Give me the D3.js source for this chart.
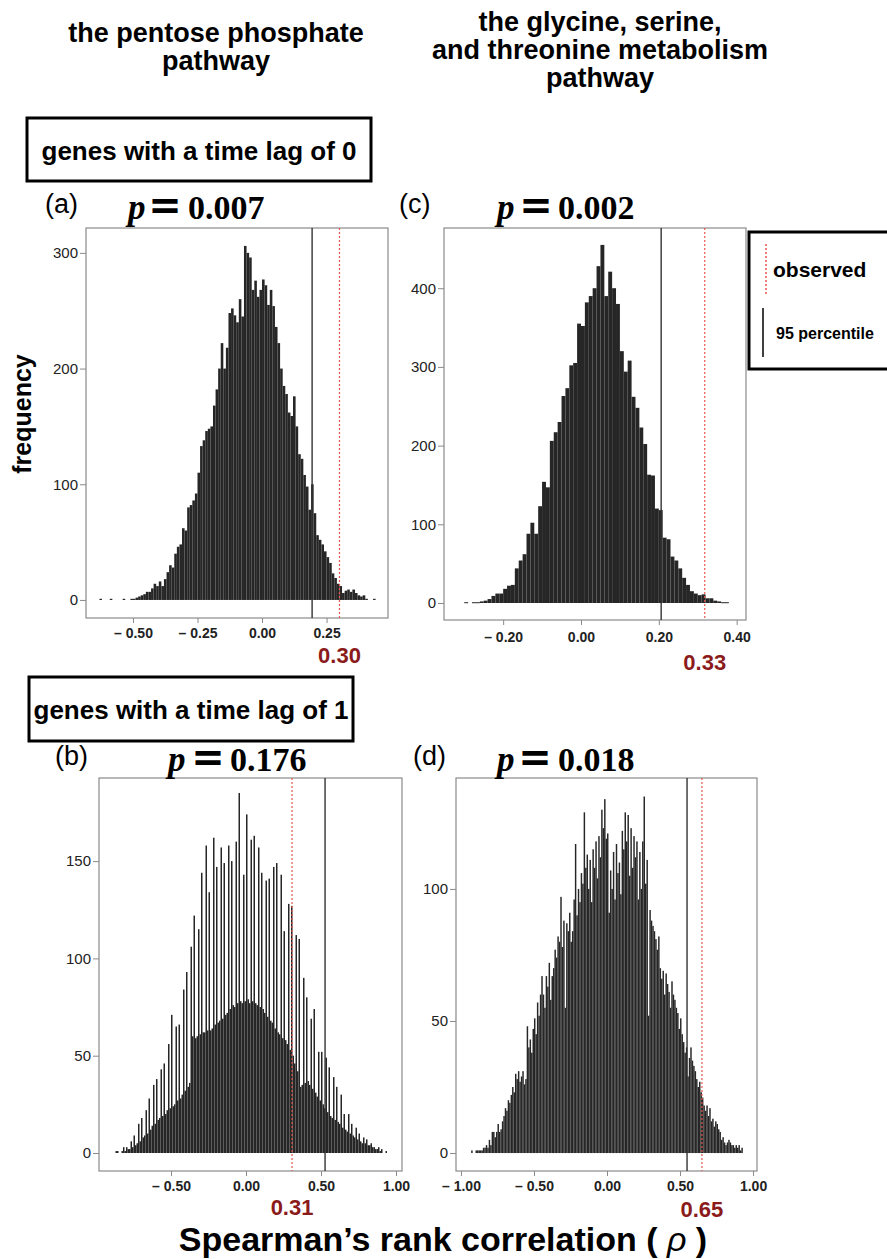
<!DOCTYPE html>
<html>
<head>
<meta charset="utf-8">
<script src="https://cdn.jsdelivr.net/npm/d3@7"></script>
<style>
  body { margin: 0; background: #fff; }
  svg { display: block; }
</style>
</head>
<body>
<div id="chart"></div>
<script>
// DATA
const binWidth = 0.01;

// (a) pentose phosphate, lag 0
const aStart = -0.63;
const aCounts = [1,0,0,0,1,0,0,0,0,1, 0,0,1,1,2,3,4,5,7,7, 10,14,12,16,12,18,24,30,28,40,
  46,48,62,60,80,82,86,92,110,133, 138,146,148,150,168,182,200,222,200,218,
  248,252,246,240,260,245,306,300,296,268, 276,262,268,277,272,255,268,254,236,222,
  200,185,178,162,159,176,150,126,122,108, 98,78,100,75,56,52,48,42,37,32,
  23,19,14,12,6,8,9,7,9,6, 4,3,4,1,0,0,1];

// (c) glycine/serine/threonine, lag 0
const cStart = -0.30;
const cCounts = [1,0,1,1,2,3,5,9,12,12, 18,22,23,44,54,62,88,102,88,123,
  154,147,206,217,230,263,273,302,305,355, 352,382,390,400,428,455,390,421,400,380,
  320,294,308,262,248,223,202,163,162,120, 118,83,81,59,54,44,32,23,15,12,
  10,11,6,6,3,2,1,1];

// (b) pentose phosphate, lag 1
const bStart = -0.87;
const bCounts = [1,1,0,0,1, 3,1,3,2,2, 6,3,9,4,5, 15,6,18,8,9, 22,10,28,12,14,
  35,15,38,17,18, 43,19,46,20,22, 56,23,71,24,25, 65,27,66,28,30, 84,32,93,34,36,
  106,60,122,59,60, 115,61,144,62,62, 158,63,134,63,64, 162,66,147,67,68,
  157,69,149,71,72, 158,74,150,76,75, 160,77,185,78,77, 143,78,174,79,77,
  161,78,163,77,76, 157,75,144,74,72, 140,70,141,68,67, 147,64,149,62,61,
  143,59,114,58,56, 128,53,127,50,46, 112,42,110,34,35, 90,36,80,37,35,
  69,33,74,31,29, 52,27,52,25,23, 49,21,44,19,18, 39,17,34,16,15,
  30,13,20,12,11, 20,10,15,9,8, 13,7,10,6,5, 8,5,7,4,4,
  5,3,3,2,2, 3,1,2,0,0, 1];

// (d) glycine/serine/threonine, lag 1
const dStart = -0.93;
const dCounts = [1,0,0,1,1,1,1,1,2,2, 3,2,5,3,8,8,6,8,11,8,
  9,12,14,17,16,20,19,22,25,23, 30,28,31,27,29,31,26,28,48,40,
  43,38,47,51,45,57,52,60,67,60, 55,67,63,72,58,67,70,77,74,82,
  80,97,78,88,55,87,84,91,80,84, 96,117,90,100,95,106,102,129,108,113,
  100,111,95,115,108,118,104,120,112,130, 123,134,119,121,91,107,100,114,96,117,
  106,110,98,122,115,129,118,128,105,123, 108,120,112,118,96,114,100,118,135,102,
  111,52,92,88,86,84,81,77,82,70, 66,69,60,68,64,61,55,65,60,58,
  55,53,47,51,45,42,38,40,29,36, 40,35,33,31,28,25,27,23,21,18,
  16,18,14,17,12,13,10,12,11,9, 8,5,6,4,3,4,5,4,3,3,
  2,3,2,3,1,2];

const panelLetters = ['(a)', '(c)', '(b)', '(d)'];
const pValues = ['0.007', '0.002', '0.176', '0.018'];
const percentiles = [0.194, 0.206, 0.527, 0.548];
const observedLine = [0.30, 0.318, 0.307, 0.65];
const observedLabels = ['0.30', '0.33', '0.31', '0.65'];

const aXTicks = [-0.5, -0.25, 0, 0.25], aYTicks = [0, 100, 200, 300];
const cXTicks = [-0.2, 0, 0.2, 0.4],   cYTicks = [0, 100, 200, 300, 400];
const bXTicks = [-0.5, 0, 0.5, 1],     bYTicks = [0, 50, 100, 150];
const dXTicks = [-1, -0.5, 0, 0.5, 1], dYTicks = [0, 50, 100];

// SETTINGS
const W = 887, H = 1259;
const sans = '"Liberation Sans", Arial, Helvetica, sans-serif';
const serif = '"Liberation Serif", "Times New Roman", serif';
const darkRed = '#8b1a1a';

const panels = [
  { counts: aCounts, start: aStart, xTicks: aXTicks, yTicks: aYTicks,
    left: 86, right: 388, top: 228, bottom: 618, xDomain: [-0.682, 0.488], yDomain: [-15.6, 321.5],
    letterX: 45, titleX: [128, 165, 188], titleY: 219, xPad: 5, obsY: 663 },
  { counts: cCounts, start: cStart, xTicks: cXTicks, yTicks: cYTicks,
    left: 444, right: 746, top: 228, bottom: 620, xDomain: [-0.352, 0.424], yDomain: [-21.6, 476.5],
    letterX: 399, titleX: [497, 536, 558], titleY: 219, xPad: 7, obsY: 670 },
  { counts: bCounts, start: bStart, xTicks: bXTicks, yTicks: bYTicks,
    left: 99, right: 402, top: 778, bottom: 1171, xDomain: [-0.98, 1.04], yDomain: [-9.25, 192.7],
    letterX: 55, titleX: [168, 208, 230], titleY: 771, xPad: 5, obsY: 1215 },
  { counts: dCounts, start: dStart, xTicks: dXTicks, yTicks: dYTicks,
    left: 456, right: 757, top: 778, bottom: 1171, xDomain: [-1.034, 1.027], yDomain: [-6.8, 142],
    letterX: 413, titleX: [497, 535, 558], titleY: 771, xPad: 5, obsY: 1217 }
];

const fmt = d3.format('.2f');
const xLabel = v => v < 0 ? '\u2013 ' + fmt(-v) : fmt(v);

const svg = d3.select('#chart').append('svg')
  .attr('width', W)
  .attr('height', H);

// column headers
const headers = [
  { x: 216, lines: ['the pentose phosphate', 'pathway'], y0: 42 },
  { x: 600, lines: ['the glycine, serine,', 'and threonine metabolism', 'pathway'], y0: 31 }
];
headers.forEach(h => {
  svg.append('text')
    .attr('x', h.x).attr('y', h.y0)
    .attr('text-anchor', 'middle')
    .style('font-family', sans).style('font-weight', 'bold').style('font-size', '27px')
    .selectAll('tspan').data(h.lines).join('tspan')
      .attr('x', h.x)
      .attr('dy', (d, i) => i === 0 ? 0 : 28)
      .text(d => d);
});

// lag boxes
const lagBoxes = [
  { x: 27, y: 118, w: 344, h: 63, text: 'genes with a time lag of 0' },
  { x: 29, y: 677, w: 324, h: 64, text: 'genes with a time lag of 1' }
];
lagBoxes.forEach(b => {
  svg.append('rect')
    .attr('x', b.x).attr('y', b.y).attr('width', b.w).attr('height', b.h)
    .attr('fill', 'none').attr('stroke', '#000').attr('stroke-width', 3);
  svg.append('text')
    .attr('x', b.x + b.w / 2).attr('y', b.y + b.h / 2 + 10)
    .attr('text-anchor', 'middle')
    .style('font-family', sans).style('font-weight', 'bold').style('font-size', '26px')
    .text(b.text);
});

// panels
panels.forEach((p, k) => {
  const x = d3.scaleLinear().domain(p.xDomain).range([p.left, p.right]);
  const y = d3.scaleLinear().domain(p.yDomain).range([p.bottom, p.top]);
  const g = svg.append('g');

  const bins = p.counts.map((c, i) => ({ x0: p.start + i * binWidth, c: c }))
    .filter(d => d.c > 0);

  g.selectAll('rect.bar')
    .data(bins)
    .join('rect')
      .attr('class', 'bar')
      .attr('x', d => x(d.x0))
      .attr('width', d => x(d.x0 + binWidth) - x(d.x0))
      .attr('y', d => y(d.c))
      .attr('height', d => Math.max(1, y(0) - y(d.c)))
      .attr('fill', '#262626');

  // frame
  g.append('rect')
    .attr('x', p.left).attr('y', p.top)
    .attr('width', p.right - p.left).attr('height', p.bottom - p.top)
    .attr('fill', 'none').attr('stroke', '#8a8a8a').attr('stroke-width', 1.2);

  // y axis
  const ya = g.append('g')
    .attr('transform', `translate(${p.left},0)`)
    .call(d3.axisLeft(y).tickValues(p.yTicks).tickSize(6).tickPadding(2).tickFormat(d3.format('d')));
  ya.select('.domain').remove();
  ya.selectAll('line').attr('stroke', '#8a8a8a');
  ya.selectAll('text').style('font-family', sans).style('font-size', '15px').attr('fill', '#222');

  // x axis
  const xa = g.append('g')
    .attr('transform', `translate(0,${p.bottom})`)
    .call(d3.axisBottom(x).tickValues(p.xTicks).tickSize(5).tickPadding(p.xPad).tickFormat(xLabel));
  xa.select('.domain').remove();
  xa.selectAll('line').attr('stroke', '#8a8a8a');
  xa.selectAll('text').style('font-family', sans).style('font-size', '14px')
    .style('font-weight', 'bold').attr('fill', '#222');

  // 95 percentile and observed lines
  g.append('line')
    .attr('x1', x(percentiles[k])).attr('x2', x(percentiles[k]))
    .attr('y1', p.top).attr('y2', p.bottom)
    .attr('stroke', '#333').attr('stroke-width', 1.4);
  g.append('line')
    .attr('x1', x(observedLine[k])).attr('x2', x(observedLine[k]))
    .attr('y1', p.top).attr('y2', p.bottom)
    .attr('stroke', '#e8554f').attr('stroke-width', 1.2).attr('stroke-dasharray', '2,2');
  g.append('text')
    .attr('x', x(observedLine[k])).attr('y', p.obsY)
    .attr('text-anchor', 'middle')
    .style('font-family', sans).style('font-weight', 'bold').style('font-size', '22px')
    .attr('fill', darkRed)
    .text(observedLabels[k]);

  // panel letter and p value
  svg.append('text')
    .attr('x', p.letterX).attr('y', p.titleY - 6)
    .style('font-family', sans).style('font-size', '27px')
    .text(panelLetters[k]);
  svg.append('text')
    .attr('x', p.titleX[0]).attr('y', p.titleY)
    .style('font-family', serif).style('font-size', '35px')
    .style('font-style', 'italic').style('font-weight', 'bold')
    .text('p');
  svg.append('text')
    .attr('x', p.titleX[1]).attr('y', p.titleY)
    .attr('text-anchor', 'middle')
    .style('font-family', '"DejaVu Sans", sans-serif').style('font-size', '40px').style('font-weight', 'bold')
    .text('=');
  svg.append('text')
    .attr('x', p.titleX[2]).attr('y', p.titleY)
    .style('font-family', serif).style('font-size', '34px').style('font-weight', 'bold')
    .text(pValues[k]);
});

// y label
svg.append('text')
  .attr('transform', 'translate(31,414) rotate(-90)')
  .attr('text-anchor', 'middle')
  .style('font-family', sans).style('font-weight', 'bold').style('font-size', '25px')
  .text('frequency');

// x label
const xl = svg.append('text')
  .attr('x', 443).attr('y', 1251)
  .attr('text-anchor', 'middle')
  .style('font-family', sans).style('font-weight', 'bold').style('font-size', '34px');
xl.append('tspan').text('Spearman\u2019s rank correlation ( ');
xl.append('tspan').style('font-weight', 'normal').style('font-style', 'italic').text('\u03c1');
xl.append('tspan').text(' )');

// legend
const legend = svg.append('g');
legend.append('rect')
  .attr('x', 749).attr('y', 232).attr('width', 160).attr('height', 137)
  .attr('fill', '#fff').attr('stroke', '#000').attr('stroke-width', 3);
legend.append('line')
  .attr('x1', 766).attr('x2', 766).attr('y1', 244).attr('y2', 295)
  .attr('stroke', '#e8554f').attr('stroke-width', 1.5).attr('stroke-dasharray', '2,2');
legend.append('text')
  .attr('x', 773).attr('y', 277)
  .style('font-family', sans).style('font-weight', 'bold').style('font-size', '21px')
  .text('observed');
legend.append('line')
  .attr('x1', 763).attr('x2', 763).attr('y1', 308).attr('y2', 357)
  .attr('stroke', '#000').attr('stroke-width', 1.5);
legend.append('text')
  .attr('x', 776).attr('y', 339)
  .style('font-family', sans).style('font-weight', 'bold').style('font-size', '16px')
  .text('95 percentile');
</script>
</body>
</html>
